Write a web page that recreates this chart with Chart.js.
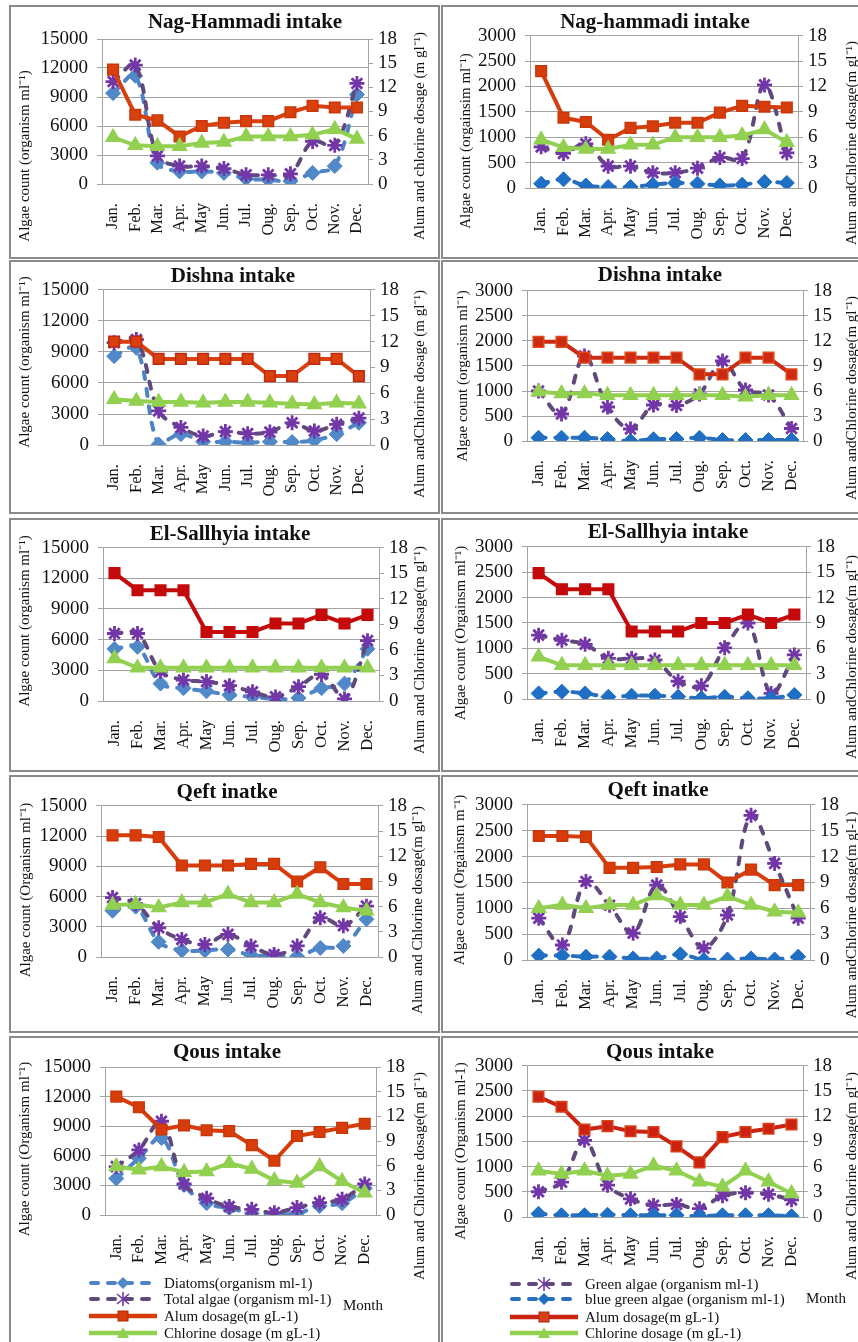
<!DOCTYPE html>
<html><head><meta charset="utf-8">
<script src="https://cdn.jsdelivr.net/npm/chart.js@4.4.1/dist/chart.umd.min.js"></script>
<style>
html,body{margin:0;padding:0;background:#fff;}
#page{position:relative;width:858px;height:1342px;overflow:hidden;background:#fff;font-family:'Liberation Serif','Times New Roman',serif;}
.frame{position:absolute;border:2px solid #8a8a8a;box-sizing:border-box;}
canvas{position:absolute;}
.lg{position:absolute;height:18px;display:flex;align-items:center;font-size:15px;color:#111;white-space:nowrap;}
.lg svg{margin-right:5px;flex:none;}
.month{position:absolute;font-size:15px;color:#111;white-space:nowrap;}
</style></head><body><div id="page"></div>
<script>
// ---------- categories & tick labels ----------
const months = ['Jan.','Feb.','Mar.','Apr.','May','Jun.','Jul.','Oug.','Sep.','Oct.','Nov.','Dec.'];
const leftTicksL = [0,3000,6000,9000,12000,15000];
const leftTicksR = [0,500,1000,1500,2000,2500,3000];
const rightTicks = [0,3,6,9,12,15,18];

// ---------- Nag-Hammadi ----------
const nagDiatoms   = [9400,11200,2200,1300,1300,1150,550,450,300,1150,1850,9250];
const nagTotal     = [10600,12300,2900,1850,1850,1600,950,950,1050,4400,4000,10400];
const nagAlumL     = [14.2,8.6,7.9,5.9,7.2,7.6,7.8,7.8,8.9,9.7,9.5,9.5];
const nagClL       = [5.8,4.8,4.7,4.7,5.1,5.2,5.9,5.9,5.9,6.1,6.8,5.6];
const nagGreen     = [810,680,870,430,430,300,300,390,600,580,2030,690];
const nagBlueGreen = [85,170,50,20,20,65,100,85,50,65,120,100];
const nagAlumR     = [13.8,8.3,7.8,5.7,7.1,7.3,7.7,7.7,8.9,9.7,9.6,9.5];
const nagClR       = [5.7,4.8,4.6,4.6,5.1,5.1,6.0,6.0,6.0,6.2,6.9,5.4];
// ---------- Dishna ----------
const disDiatoms   = [8600,9400,50,1050,320,320,230,320,290,450,1050,2150];
const disTotal     = [9900,10200,3300,1700,870,1300,1100,1250,2150,1350,2000,2600];
const disAlumL     = [12,12,10,10,10,10,10,8,8,10,10,8];
const disClL       = [5.3,5.1,5.0,5.0,4.9,5.0,5.0,4.9,4.8,4.7,4.9,4.8];
const disGreen     = [1000,540,1700,680,240,720,710,940,1600,1020,920,250];
const disBlueGreen = [65,65,65,40,0,35,40,65,20,20,20,20];
const disAlumR     = [11.9,11.9,10,10,10,10,10,8,8,10,10,8];
const disClR       = [5.9,5.7,5.7,5.5,5.5,5.5,5.5,5.5,5.5,5.3,5.5,5.5];
// ---------- El-Sallhyia ----------
const salDiatoms   = [5100,5300,1700,1250,950,600,400,200,300,1250,1700,5100];
const salTotal     = [6600,6600,2900,2050,1900,1500,900,400,1400,2600,200,5900];
const salAlumL     = [15,13,13,13,8.1,8.1,8.1,9.1,9.1,10.1,9.1,10.1];
const salClL       = [5.0,3.9,3.9,3.9,3.9,3.9,3.9,3.9,3.9,3.9,3.9,3.9];
const salGreen     = [1260,1160,1080,800,800,770,350,260,1010,1500,110,870];
const salBlueGreen = [110,145,110,45,65,65,45,15,45,15,15,80];
const salAlumR     = [14.9,13,13,13,8,8,8,9,9,10,9,10];
const salClR       = [5.0,4,4,4,4,4,4,4,4,4,4,4];
// ---------- Qeft ----------
const qefDiatoms   = [4600,5000,1500,650,650,750,200,80,50,900,1100,3750];
const qefTotal     = [5900,5300,2900,1750,1250,2250,1100,250,1100,3900,3100,5050];
const qefAlumL     = [14.5,14.5,14.3,10.9,10.9,10.9,11.1,11.1,9.0,10.7,8.7,8.7];
const qefClL       = [6.2,6.3,5.9,6.5,6.5,7.5,6.5,6.5,7.5,6.5,5.9,5.5];
const qefGreen     = [810,290,1520,1060,520,1450,840,230,870,2800,1870,810];
const qefBlueGreen = [85,85,65,65,30,30,110,0,10,30,10,65];
const qefAlumR     = [14.4,14.4,14.3,10.7,10.7,10.8,11.1,11.1,9.0,10.5,8.7,8.7];
const qefClR       = [6.0,6.4,6.0,6.4,6.4,7.5,6.4,6.4,7.4,6.4,5.6,5.5];
// ---------- Qous ----------
const qouDiatoms   = [3700,5750,7800,3050,1200,700,170,50,170,900,1200,2700];
const qouTotal     = [4900,6600,9500,3150,1700,850,580,240,750,1250,1600,3150];
const qouAlumL     = [14.4,13.1,10.4,10.9,10.3,10.2,8.5,6.6,9.6,10.1,10.6,11.1];
const qouClL       = [5.9,5.5,5.9,5.2,5.3,6.3,5.6,4.2,3.9,5.9,4.1,2.7];
const qouGreen     = [500,690,1520,630,360,230,250,165,420,480,450,340];
const qouBlueGreen = [65,35,35,45,35,35,35,15,35,35,35,15];
const qouAlumR     = [14.3,13.1,10.4,10.8,10.2,10.1,8.4,6.5,9.5,10.1,10.5,11.0];
const qouClR       = [5.5,5.1,5.5,4.9,5.1,6.1,5.5,4.2,3.6,5.5,4.2,2.8];

// ---------- series names ----------
const namesL = ['Diatoms(organism ml-1)','Total algae (organism ml-1)','Alum dosage(m gL-1)','Chlorine dosage (m gL-1)'];
const namesR = ['Green algae (organism ml-1)','blue green algae (organism ml-1)','Alum dosage(m gL-1)','Chlorine dosage (m gL-1)'];

// ---------- panels ----------
const FONT = "'Liberation Serif','Times New Roman',serif";
const C = {diat:'#4f84c4', diatPt:'#5088c8', purple:'#604a7b', purplePt:'#7236a8', bg:'#2a6fbe', bgPt:'#1f6fc4', green:'#92d050'};

const panels = [
 {kind:'L', title:'Nag-Hammadi intake', a:nagDiatoms, b:nagTotal, alum:nagAlumL, cl:nagClL,
  yT:'Algae count (organism ml⁻¹)', y1T:'Alum and chlorine dosage (m gl⁻¹)', alumC:'#d9400e', alumB:'#c8380a',
  frame:[9,5,431,254], plot:[102,39,368,184], tc:[245,23], yl:[25,156], yr:[420,136]},
 {kind:'R', title:'Nag-hammadi intake', a:nagGreen, b:nagBlueGreen, alum:nagAlumR, cl:nagClR,
  yT:'Algae count (orgainsim ml⁻¹)', y1T:'Alum andChlorine dosage(m gl⁻¹)', alumC:'#d63d0c', alumB:'#c8380a',
  frame:[441,5,430,254], plot:[530,35,798,188], tc:[655,23], yl:[466,141], yr:[852,143]},
 {kind:'L', title:'Dishna intake', a:disDiatoms, b:disTotal, alum:disAlumL, cl:disClL,
  yT:'Algae count (organism ml⁻¹)', y1T:'Alum andChlorine dosage (m gl⁻¹)', alumC:'#d9400e', alumB:'#c02a10',
  frame:[9,260,431,254], plot:[103,290,370,445], tc:[233,277], yl:[25,362], yr:[420,394]},
 {kind:'R', title:'Dishna intake', a:disGreen, b:disBlueGreen, alum:disAlumR, cl:disClR,
  yT:'Algae count (organism ml⁻¹)', y1T:'Alum andChlorine dosage(m gl⁻¹)', alumC:'#cc2a12', alumB:'#e04a1a',
  frame:[441,260,430,254], plot:[527,291,803,441], tc:[660,276], yl:[463,376], yr:[852,398]},
 {kind:'L', title:'El-Sallhyia intake', a:salDiatoms, b:salTotal, alum:salAlumL, cl:salClL,
  yT:'Algae count (organism ml⁻¹)', y1T:'Alum and Chlorine dosage(m gl⁻¹)', alumC:'#c40a0a', alumB:'#c40a0a',
  frame:[9,518,431,254], plot:[103,547,379,701], tc:[230,535], yl:[25,621], yr:[420,650]},
 {kind:'R', title:'El-Sallhyia intake', a:salGreen, b:salBlueGreen, alum:salAlumR, cl:salClR,
  yT:'Algae count (Orgainsm ml⁻¹)', y1T:'Alum andChlorine dosage(m gl⁻¹)', alumC:'#c40a0a', alumB:'#c40a0a',
  frame:[441,518,430,254], plot:[527,547,806,699], tc:[668,533], yl:[461,633], yr:[852,657]},
 {kind:'L', title:'Qeft inatke', a:qefDiatoms, b:qefTotal, alum:qefAlumL, cl:qefClL,
  yT:'Algae count (Organism ml⁻¹)', y1T:'Alum and Chlorine dosage(m gl⁻¹)', alumC:'#d83c0a', alumB:'#c8380a',
  frame:[9,775,431,258], plot:[101,806,378,957], tc:[227,793], yl:[26,890], yr:[418,910]},
 {kind:'R', title:'Qeft inatke', a:qefGreen, b:qefBlueGreen, alum:qefAlumR, cl:qefClR,
  yT:'Algae count (Orgainsm m⁻¹)', y1T:'Alum andChlorine dosage(m gl-1)', alumC:'#d83c0a', alumB:'#c8380a',
  frame:[441,775,430,258], plot:[527,805,810,960], tc:[658,791], yl:[460,880], yr:[852,915]},
 {kind:'L', title:'Qous intake', a:qouDiatoms, b:qouTotal, alum:qouAlumL, cl:qouClL,
  yT:'Algae count (Organism ml⁻¹)', y1T:'Alum and Chlorine dosage(m gl⁻¹)', alumC:'#d83c0a', alumB:'#c8380a',
  frame:[9,1036,431,312], plot:[105,1067,376,1215], tc:[227,1053], yl:[25,1149], yr:[420,1176]},
 {kind:'R', title:'Qous intake', a:qouGreen, b:qouBlueGreen, alum:qouAlumR, cl:qouClR,
  yT:'Algae count (Organism ml-1)', y1T:'Alum and Chlorine dosage(m gl⁻¹)', alumC:'#cc2210', alumB:'#d8401a',
  frame:[441,1036,430,312], plot:[527,1065,803,1217], tc:[660,1053], yl:[461,1151], yr:[852,1176]},
];

const sideTitles = {
  id:'sideTitles',
  afterDraw(chart, args, opts){
    const ctx = chart.ctx;
    ctx.save();
    ctx.font = opts.font; ctx.fillStyle = opts.color;
    ctx.textAlign = 'center'; ctx.textBaseline = 'middle';
    for (const it of opts.items){
      ctx.save(); ctx.translate(it.x, it.y); ctx.rotate(-Math.PI/2);
      ctx.fillText(it.text, 0, 0); ctx.restore();
    }
    ctx.restore();
  }
};

const page = document.getElementById('page');

function algaeDs(label, data, line, pt, style, order){
  return {label, data, yAxisID:'y', borderColor:line, backgroundColor:pt, borderWidth:4,
    borderDash:[7,10], borderCapStyle:'round', tension:0.35, pointStyle:style,
    pointRadius: 7.5, pointHoverRadius:7, pointBackgroundColor:pt, pointBorderColor:pt,
    pointBorderWidth: style==='star'?2.8:1, order};
}
function doseDs(label, data, line, ptB, style, order){
  return {label, data, yAxisID:'y1', borderColor:line, backgroundColor:line, borderWidth:4,
    tension:0, pointStyle:style, pointRadius: style==='rect'?7.5:8, pointBackgroundColor:line,
    pointBorderColor:ptB, pointBorderWidth:1.5, order};
}

panels.forEach(p => {
  const [fx,fy,fw,fh] = p.frame;
  const fr = document.createElement('div');
  fr.className = 'frame';
  Object.assign(fr.style,{left:fx+'px',top:fy+'px',width:fw+'px',height:fh+'px'});
  page.appendChild(fr);

  const cx = fx+2, cy = fy+2, ch = fh-4;
  const cw = Math.round(2*(p.tc[0]-cx));   // canvas centred on the title
  const cv = document.createElement('canvas');
  cv.width = cw; cv.height = ch;
  Object.assign(cv.style,{left:cx+'px',top:cy+'px',width:cw+'px',height:ch+'px'});
  page.appendChild(cv);

  const [pl,pt,pr,pb] = p.plot;
  const lw = pl - cx;
  const rw = (cx+cw) - pr;
  const xh = (cy+ch) - pb;
  const tTop = Math.max(0, p.tc[1] - 12.6 - cy);
  const tBot = Math.max(0, pt - (p.tc[1] + 12.6));

  const isL = p.kind==='L';
  const names = isL ? namesL : namesR;
  const datasets = isL ? [
      algaeDs(names[0], p.a, C.diat, C.diatPt, 'rectRot', 4),
      algaeDs(names[1], p.b, C.purple, C.purplePt, 'star', 3),
    ] : [
      algaeDs(names[0], p.a, C.purple, C.purplePt, 'star', 4),
      algaeDs(names[1], p.b, C.bg, C.bgPt, 'rectRot', 3),
    ];
  datasets.push(doseDs(names[2], p.alum, p.alumC, p.alumB, 'rect', 2));
  datasets.push(doseDs(names[3], p.cl, C.green, C.green, 'triangle', 1));

  const lticks = isL ? leftTicksL : leftTicksR;
  const gridC = '#a3a3a3';

  new Chart(cv, {
    type:'line',
    data:{labels: months, datasets},
    options:{
      responsive:false, animation:false, devicePixelRatio:1,
      layout:{padding:0},
      plugins:{
        legend:{display:false}, tooltip:{enabled:false},
        title:{display:true, text:p.title, color:'#111',
          font:{family:FONT, size:21, weight:'bold', lineHeight:1.2},
          padding:{top:tTop, bottom:tBot}},
        sideTitles:{font:"15px "+FONT, color:'#111', items:[
          {text:p.yT, x:p.yl[0]-cx, y:p.yl[1]-cy},
          {text:p.y1T, x:p.yr[0]-cx, y:p.yr[1]-cy}]}
      },
      scales:{
        x:{type:'category', offset:true, grid:{display:false},
           border:{display:true, color:gridC, width:1},
           ticks:{minRotation:90, maxRotation:90, autoSkip:false, padding:11, color:'#111',
                  font:{family:FONT, size:16.5}},
           afterFit: s => { s.height = xh; }},
        y:{position:'left', min:0, max:lticks[lticks.length-1],
           afterBuildTicks: s => { s.ticks = lticks.map(v=>({value:v})); },
           ticks:{color:'#111', padding:9, autoSkip:false, font:{family:FONT, size:19}, callback: v => String(v)},
           grid:{color:gridC, lineWidth:1, drawTicks:true, tickLength:5},
           border:{display:true, color:gridC, width:1},
           afterFit: s => { s.width = lw; }},
        y1:{position:'right', min:0, max:18,
           afterBuildTicks: s => { s.ticks = rightTicks.map(v=>({value:v})); },
           ticks:{color:'#111', padding:5, autoSkip:false, font:{family:FONT, size:19}, callback: v => String(v)},
           grid:{drawOnChartArea:false, color:gridC, drawTicks:true, tickLength:5},
           border:{display:true, color:gridC, width:1},
           afterFit: s => { s.width = rw; }}
      }
    },
    plugins:[sideTitles]
  });
});

// ---------- legends (bottom row) ----------
function sample(kind, color){
  let s = '<svg width="72" height="18" viewBox="0 0 72 18">';
  if (kind==='dash') s += `<line x1="4" y1="9" x2="68" y2="9" stroke="${color}" stroke-width="4" stroke-dasharray="7 10" stroke-linecap="round"/>`;
  else s += `<line x1="2" y1="9" x2="70" y2="9" stroke="${color}" stroke-width="4.5"/>`;
  return s;
}
function marker(style, c){
  if (style==='rectRot') return `<polygon points="36,3 42,9 36,15 30,9" fill="${c}"/>`;
  if (style==='star') return `<g stroke="${c}" stroke-width="1.6"><line x1="36" y1="2" x2="36" y2="16"/><line x1="30" y1="4" x2="42" y2="14"/><line x1="30" y1="14" x2="42" y2="4"/></g>`;
  if (style==='rect') return `<rect x="31" y="4" width="10" height="10" fill="${c}" stroke="#b02a0a" stroke-width="1"/>`;
  return `<polygon points="36,3 42,14 30,14" fill="${c}"/>`;
}
const legendL = [
  {name:namesL[0], kind:'dash', color:C.diat, st:'rectRot', pc:C.diatPt},
  {name:namesL[1], kind:'dash', color:C.purple, st:'star', pc:C.purplePt},
  {name:namesL[2], kind:'solid', color:'#d83c0a', st:'rect', pc:'#d83c0a'},
  {name:namesL[3], kind:'solid', color:C.green, st:'triangle', pc:C.green},
];
const legendR = [
  {name:namesR[0], kind:'dash', color:C.purple, st:'star', pc:C.purplePt},
  {name:namesR[1], kind:'dash', color:C.bg, st:'rectRot', pc:C.bgPt},
  {name:namesR[2], kind:'solid', color:'#cc2210', st:'rect', pc:'#d8401a'},
  {name:namesR[3], kind:'solid', color:C.green, st:'triangle', pc:C.green},
];
function drawLegend(items, x, ys){
  items.forEach((it,i)=>{
    const d = document.createElement('div');
    d.className = 'lg';
    d.style.left = x+'px'; d.style.top = (ys[i]-9)+'px';
    d.innerHTML = sample(it.kind, it.color) + marker(it.st, it.pc) + '</svg><span>'+it.name+'</span>';
    page.appendChild(d);
  });
}
drawLegend(legendL, 87, [1283,1299,1316,1333]);
drawLegend(legendR, 508, [1284,1299,1317,1333]);
function month(x,y){ const m=document.createElement('div'); m.className='month'; m.textContent='Month'; m.style.left=x+'px'; m.style.top=(y-9)+'px'; page.appendChild(m); }
month(343,1306); month(806,1299);
</script></body></html>
